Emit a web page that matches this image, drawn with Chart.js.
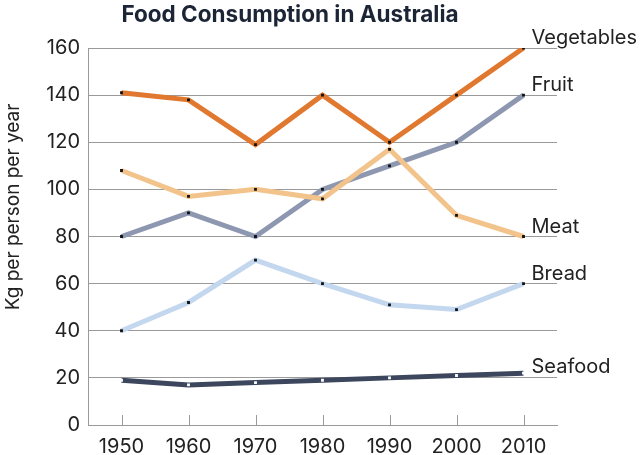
<!DOCTYPE html>
<html>
<head>
<meta charset="utf-8">
<script src="https://cdn.jsdelivr.net/npm/chart.js@4.4.1/dist/chart.umd.min.js"></script>
<style>
  html, body { margin: 0; padding: 0; background: #ffffff; }
  #wrap { width: 640px; height: 455px; }
</style>
</head>
<body>
<div id="wrap"><canvas id="c" width="640" height="455"></canvas></div>
<script>
const years = ['1950', '1960', '1970', '1980', '1990', '2000', '2010'];
const vegetables = [141, 138, 119, 140, 120, 140, 160];
const meat = [108, 97, 100, 96, 117, 89, 80];
const fruit = [80, 90, 80, 100, 110, 120, 140];
const bread = [40, 52, 70, 60, 51, 49, 60];
const seafood = [19, 17, 18, 19, 20, 21, 22];
const seriesNames = ['Vegetables', 'Meat', 'Fruit', 'Bread', 'Seafood'];
const yTicks = [0, 20, 40, 60, 80, 100, 120, 140, 160];

const FONT = 'Inter, "Noto Sans", sans-serif';

function ds(label, data, color, pointColor) {
  return {
    label: label,
    data: data,
    borderColor: color,
    backgroundColor: color,
    borderWidth: 5,
    pointStyle: 'rect',
    pointRadius: 2,
    pointBorderWidth: 0,
    pointBackgroundColor: pointColor,
    pointHoverRadius: 2,
    tension: 0,
    fill: false
  };
}

const decor = {
  id: 'decor',
  afterDraw(chart) {
    const ctx = chart.ctx;
    const x = chart.scales.x;
    const area = chart.chartArea;
    ctx.save();
    // x tick marks pointing up
    ctx.strokeStyle = '#9a9a9a';
    ctx.lineWidth = 1;
    x.ticks.forEach((t, i) => {
      const px = Math.round(x.getPixelForTick(i)) + 0.5;
      ctx.beginPath();
      ctx.moveTo(px, area.bottom);
      ctx.lineTo(px, area.bottom - 10);
      ctx.stroke();
    });
    // series labels at end points
    ctx.fillStyle = '#222222';
    ctx.font = '20px ' + FONT;
    ctx.textAlign = 'left';
    ctx.textBaseline = 'alphabetic';
    chart.data.datasets.forEach((d, i) => {
      const meta = chart.getDatasetMeta(i);
      const pt = meta.data[meta.data.length - 1];
      const lift = (d.label === 'Seafood') ? 0 : 4;
      ctx.fillText(seriesNames[i], pt.x + 8, pt.y - lift);
    });
    // title
    ctx.fillStyle = '#1c2536';
    ctx.font = 'bold 22.5px ' + FONT;
    ctx.textAlign = 'center';
    ctx.fillText('Food Consumption in Australia', 290, 22);
    // y axis title
    ctx.translate(13, 207);
    ctx.rotate(-Math.PI / 2);
    ctx.fillStyle = '#222222';
    ctx.font = '19px ' + FONT;
    ctx.textBaseline = 'middle';
    ctx.fillText('Kg per person per year', 0, 0);
    ctx.restore();
  }
};

new Chart(document.getElementById('c'), {
  type: 'line',
  data: {
    labels: years,
    datasets: [
      ds(seriesNames[0], vegetables, '#e0782f', '#111111'),
      ds(seriesNames[1], meat, '#f2c38a', '#111111'),
      ds(seriesNames[2], fruit, '#8d97b0', '#111111'),
      ds(seriesNames[3], bread, '#c3d7ef', '#111111'),
      ds(seriesNames[4], seafood, '#3c465c', '#ffffff')
    ]
  },
  options: {
    responsive: false,
    animation: false,
    devicePixelRatio: 1,
    layout: { padding: { top: 48, right: 83, left: 0, bottom: 0 } },
    plugins: {
      legend: { display: false },
      title: { display: false },
      tooltip: { enabled: false }
    },
    scales: {
      x: {
        type: 'category',
        offset: true,
        grid: { display: false },
        border: { display: true, color: '#9a9a9a', width: 1 },
        ticks: { color: '#222222', font: { family: FONT, size: 20, lineHeight: 1 }, padding: 4, maxRotation: 0 },
        afterFit(s) { s.height = 30; }
      },
      y: {
        min: 0,
        max: 160,
        afterBuildTicks(s) { s.ticks = yTicks.map(v => ({ value: v })); },
        grid: { color: '#9a9a9a', drawTicks: false, lineWidth: 1 },
        border: { display: true, color: '#9a9a9a', width: 1 },
        ticks: { color: '#222222', font: { family: FONT, size: 20 }, padding: 8 },
        afterFit(s) { s.width = 88; }
      }
    }
  },
  plugins: [decor]
});
</script>
</body>
</html>
